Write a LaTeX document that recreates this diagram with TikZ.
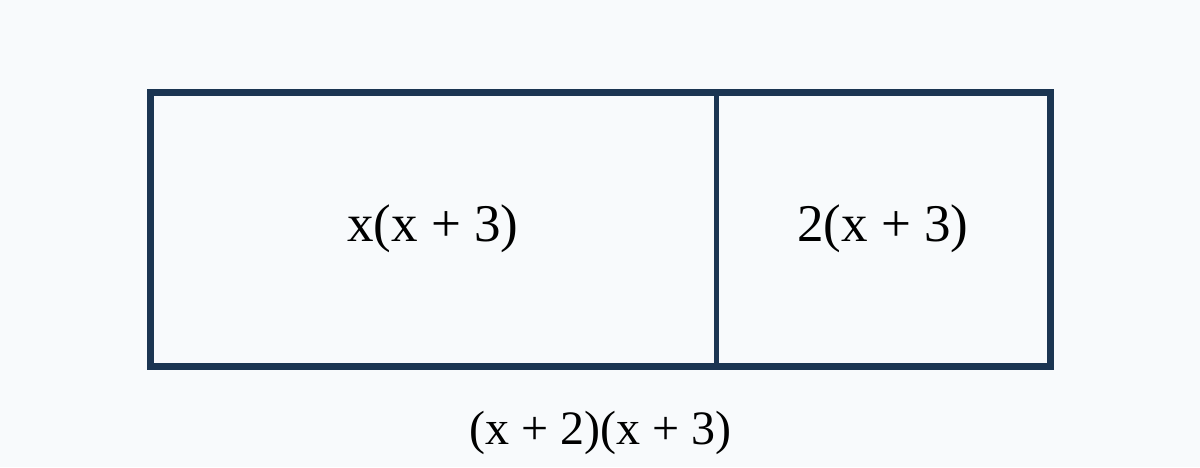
\documentclass[tikz,border=0pt]{standalone}
\usepackage{fontspec}
\setmainfont{Liberation Serif}
\definecolor{bg}{HTML}{F8FAFC}
\definecolor{navy}{HTML}{1B3552}
\begin{document}
\begin{tikzpicture}[x=1pt,y=-1pt,
  lbl/.style={font=\fontsize{53}{60}\selectfont, text=black, inner sep=0pt},
  sublbl/.style={font=\fontsize{48}{56}\selectfont, text=black, inner sep=0pt}]
\fill[bg] (0,0) rectangle (1200,467);
\useasboundingbox (0,0) rectangle (1200,467);
\coordinate (tl) at (150,92);
\coordinate (br) at (1050,366);
\coordinate (dt) at (716.5,92);
\coordinate (db) at (716.5,366);
\draw[navy, line width=5pt] (dt) -- (db);
\draw[navy, line width=7pt] (tl) rectangle (br);
\node[lbl] (a) at (433,229) {x(x + 3)};
\node[lbl] (b) at (883,229) {2(x + 3)};
\node[sublbl] (c) at (600.5,433) {(x + 2)(x + 3)};
\end{tikzpicture}
\end{document}
